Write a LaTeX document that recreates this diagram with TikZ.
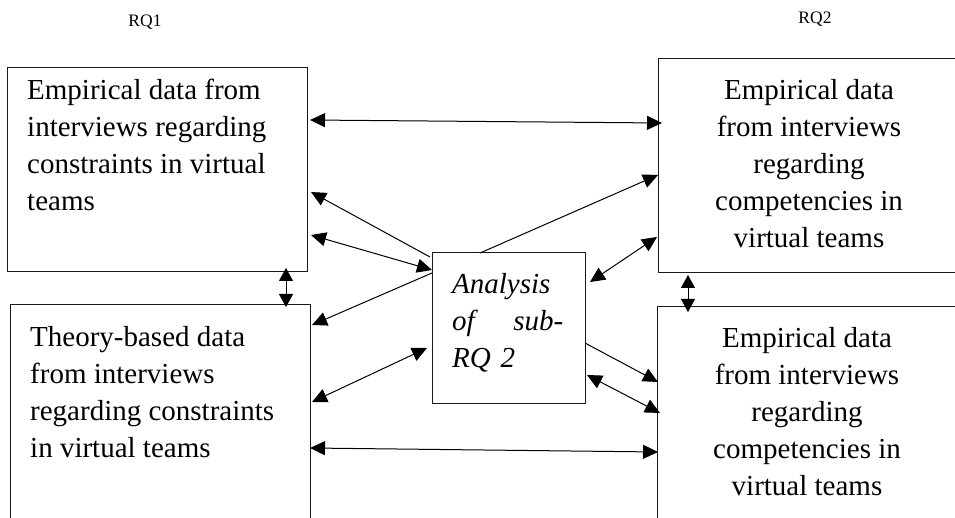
\documentclass[tikz,border=0pt]{standalone}
\usepackage{fontspec}
\setmainfont{Liberation Serif}
\usetikzlibrary{arrows.meta,calc}
\begin{document}
\begin{tikzpicture}[x=1pt,y=-1pt,
  box/.style={draw=black!90, line width=1pt, rectangle, anchor=north west,
    inner sep=0pt, outer sep=0pt},
  body/.style={inner sep=0pt, font=\fontsize{29}{37}\selectfont},
  rq/.style={inner sep=0pt, anchor=base, font=\fontsize{17.5}{20}\selectfont},
  link/.style={line width=1pt, -{Triangle[length=15pt,width=14pt]}},
  dlink/.style={line width=1pt,
    {Triangle[length=15pt,width=14pt]}-{Triangle[length=15pt,width=14pt]}},
  slink/.style={line width=1pt,
    {Triangle[length=13pt,width=14pt]}-{Triangle[length=13pt,width=14pt]}},
]
\useasboundingbox (0,0) rectangle (955,518);
\clip (0,0) rectangle (955,518);

% headings
\node[rq] (rq1) at (145,27) {RQ1};
\node[rq] (rq2) at (815,24) {RQ2};

% the five boxes (the outer ones run past the page edge)
\node[box, minimum width=300pt, minimum height=204pt] (tl) at (7,68) {};
\node[box, minimum width=300pt, minimum height=300pt] (bl) at (10,305) {};
\node[box, minimum width=300pt, minimum height=214pt] (tr) at (658,59) {};
\node[box, minimum width=300pt, minimum height=300pt] (br) at (657,307) {};
\node[box, minimum width=153pt, minimum height=150pt] (c) at (432,253) {};

% box texts
\node[body, anchor=north west, align=left] (tltext) at (27,79.2)
  {Empirical data from\\interviews regarding\\constraints in virtual\\teams};
\node[body, anchor=north west, align=left] (bltext) at (30,326.2)
  {Theory-based data\\from interviews\\regarding constraints\\in virtual teams};
\node[body, anchor=north, align=center] (trtext) at (809,79.2)
  {Empirical data\\from interviews\\regarding\\competencies in\\virtual teams};
\node[body, anchor=north, align=center] (brtext) at (807,327.2)
  {Empirical data\\from interviews\\regarding\\competencies in\\virtual teams};
\node[body, anchor=north west, align=left, text width=111pt,
  font=\fontsize{29}{37}\selectfont\itshape] (ctext) at (452,273.2)
  {Analysis\\of\hfill sub-\\RQ 2};

% connector end points
\coordinate (ha) at (310,120);   \coordinate (hb) at (662,123);
\coordinate (s1a) at (430,257);  \coordinate (s1b) at (311,192);
\coordinate (d1a) at (311,235);  \coordinate (d1b) at (432,270);
\coordinate (s2a) at (480,253);  \coordinate (s2b) at (658,175);
\coordinate (d2a) at (657,237);  \coordinate (d2b) at (590,282);
\coordinate (s3a) at (432,273);  \coordinate (s3b) at (312,325);
\coordinate (d3a) at (312,402);  \coordinate (d3b) at (427,348);
\coordinate (s4a) at (585,343);  \coordinate (s4b) at (658,382);
\coordinate (d4a) at (587,375);  \coordinate (d4b) at (660,413);
\coordinate (ga) at (310,448);   \coordinate (gb) at (658,452);
\coordinate (va) at (286,268);   \coordinate (vb) at (286,307);
\coordinate (wa) at (688,275);   \coordinate (wb) at (688,312);

% connectors
\draw[dlink] (ha) -- (hb);
\draw[link]  (s1a) -- (s1b);
\draw[dlink] (d1a) -- (d1b);
\draw[link]  (s2a) -- (s2b);
\draw[dlink] (d2a) -- (d2b);
\draw[link]  (s3a) -- (s3b);
\draw[dlink] (d3a) -- (d3b);
\draw[link]  (s4a) -- (s4b);
\draw[dlink] (d4a) -- (d4b);
\draw[dlink] (ga) -- (gb);
\draw[slink] (va) -- (vb);
\draw[slink] (wa) -- (wb);
\end{tikzpicture}
\end{document}
